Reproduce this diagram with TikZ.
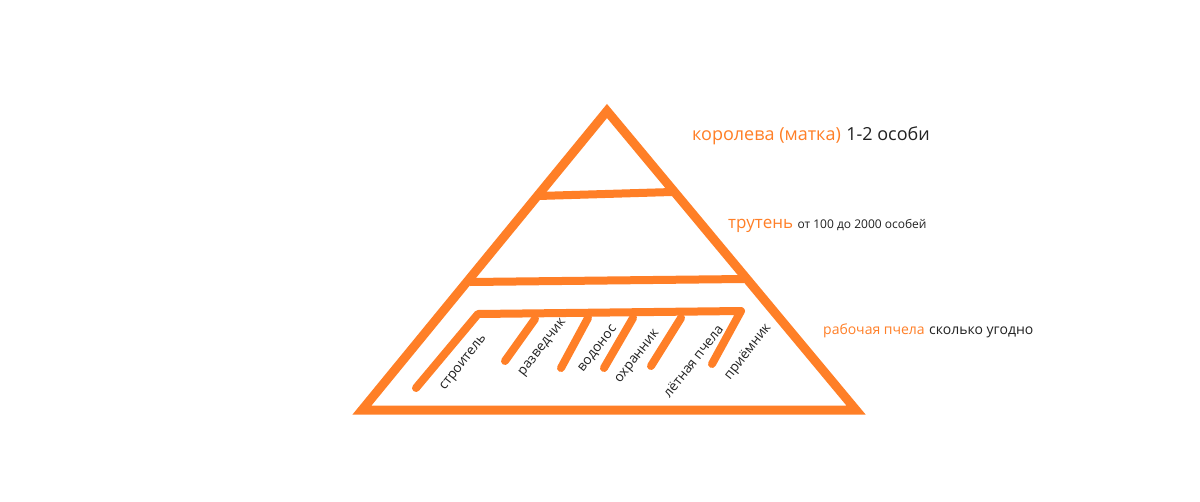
\documentclass[tikz,border=0pt]{standalone}
\usepackage{fontspec}
\setmainfont{Open Sans}
\definecolor{pyr}{HTML}{FF7F27}
\definecolor{txt}{HTML}{222222}
\begin{document}
\begin{tikzpicture}[x=1pt,y=-1pt,
  frame/.style={draw=pyr,line width=9pt,line join=miter},
  bar/.style={draw=pyr,line width=8pt,line cap=round},
  role/.style={font=\fontsize{13.5}{15}\selectfont,text=txt,rotate=52,inner sep=0pt},
  lbl/.style={anchor=base west,inner sep=0pt}]
\useasboundingbox (0,0) rectangle (1200,501);
\fill[white] (0,0) rectangle (1200,501);
\coordinate (A) at (607,111);
\coordinate (BL) at (362,410);
\coordinate (BR) at (856,410);
\draw[frame] (A) -- (BL) -- (BR) -- cycle;
\coordinate (l1a) at (538,196); \coordinate (l1b) at (672,192);
\coordinate (l2a) at (470,282); \coordinate (l2b) at (744,279);
\draw[bar,line cap=butt] (l1a) -- (l1b);
\draw[bar,line cap=butt] (l2a) -- (l2b);
\coordinate (ia) at (478,314); \coordinate (ib) at (741,311);
\draw[bar,line join=round] (416,388) -- (ia) -- (ib) -- (712,364);
\draw[bar] (535,319) -- (505,361);
\draw[bar] (588,318) -- (561,368);
\draw[bar] (633,318) -- (604,368);
\draw[bar] (681,318) -- (651,366);
\node[role] (r1) at (464,363) {строитель};
\node[role] (r2) at (543,348) {разведчик};
\node[role] (r3) at (598,349) {водонос};
\node[role] (r4) at (638,357) {охранник};
\node[role] (r5) at (693,361) {лётная пчела};
\node[role] (r6) at (748,352) {приёмник};
\node[lbl,text=pyr,font=\fontsize{18}{20}\selectfont] (q) at (692,140) {королева (матка)};
\node[lbl,text=txt,font=\fontsize{18}{20}\selectfont] (qn) at ([xshift=5pt]q.base east) {1-2 особи};
\node[lbl,text=pyr,font=\fontsize{17}{20}\selectfont] (d) at (728,228) {трутень};
\node[lbl,text=txt,font=\fontsize{12}{14}\selectfont] (dn) at ([xshift=4pt]d.base east) {от 100 до 2000 особей};
\node[lbl,text=pyr,font=\fontsize{14}{16}\selectfont] (w) at (823,334) {рабочая пчела};
\node[lbl,text=txt,font=\fontsize{14}{16}\selectfont] (wn) at ([xshift=4pt]w.base east) {сколько угодно};
\end{tikzpicture}
\end{document}
